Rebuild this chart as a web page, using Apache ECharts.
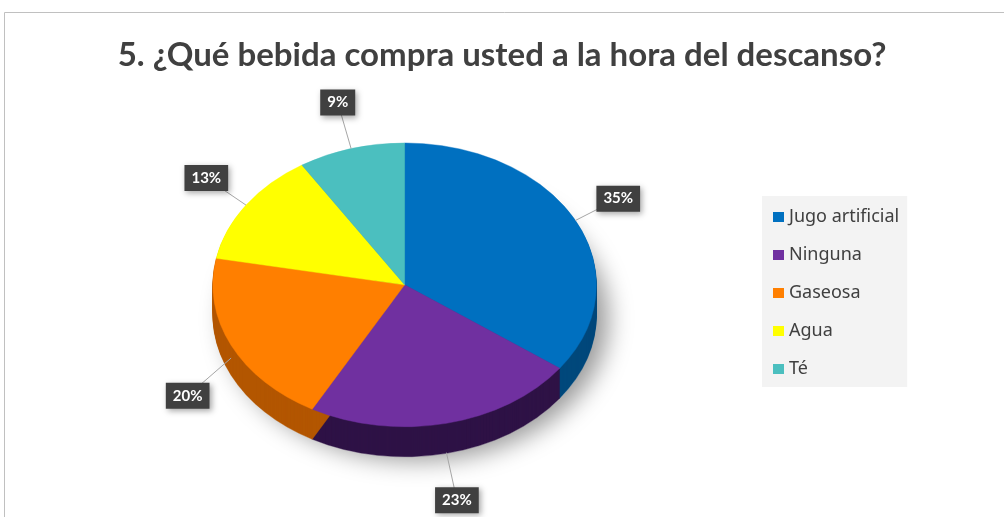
<!DOCTYPE html>
<html>
<head>
<meta charset="utf-8">
<script src="https://cdn.jsdelivr.net/npm/echarts@6/dist/echarts.min.js"></script>
<style>
  html, body { margin: 0; padding: 0; background: #fff; }
  #chart { width: 1004px; height: 517px; }
</style>
</head>
<body>
<div id="chart"></div>
<script>
// --- Data ---
const categories = ['Jugo artificial', 'Ninguna', 'Gaseosa', 'Agua', 'Té'];
const values = [35, 23, 20, 13, 9];
const topColors = ['#0070C0', '#7030A0', '#FF7F00', '#FFFF00', '#4BBFBF'];
const sideColors = ['#00487C', '#2E1246', '#B35600', '#B3B300', '#2F8585'];

const total = values.reduce((a, b) => a + b, 0);
const startFrac = values.map((v, i) => values.slice(0, i).reduce((a, b) => a + b, 0) / total);

// --- 3D-ish pie drawn as tilted sectors ---
function renderSlice(params, api) {
  const i = params.dataIndex;
  const w = api.getWidth();
  const h = api.getHeight();
  const cx = w * 0.403;
  const cy = h * 0.551;
  const rx = w * 0.191;
  const ry = rx * 0.74;
  const depth = 30;
  const sy = ry / rx;

  const v = api.value(0);
  const a0 = startFrac[i] * Math.PI * 2 - Math.PI / 2;
  const a1 = a0 + v / total * Math.PI * 2;

  const children = [];

  // soft shadow under the whole pie, drawn once
  if (i === 0) {
    children.push({
      type: 'circle',
      shape: { cx: cx, cy: cy + depth, r: rx },
      scaleY: sy, originX: cx, originY: cy + depth,
      style: { fill: '#fff', shadowBlur: 24, shadowOffsetX: 12, shadowOffsetY: 4, shadowColor: 'rgba(0,0,0,0.4)' },
      z2: 0
    });
  }

  // side wall: stacked copies
  for (let d = depth; d >= 1; d--) {
    children.push({
      type: 'sector',
      shape: { cx: cx, cy: cy + d, r: rx, startAngle: a0, endAngle: a1, clockwise: true },
      scaleY: sy, originX: cx, originY: cy + d,
      style: { fill: sideColors[i], stroke: sideColors[i], lineWidth: 0.5 },
      z2: 1
    });
  }

  // top face
  children.push({
    type: 'sector',
    shape: { cx: cx, cy: cy, r: rx, startAngle: a0, endAngle: a1, clockwise: true },
    scaleY: sy, originX: cx, originY: cy,
    style: { fill: topColors[i], stroke: topColors[i], lineWidth: 0.5 },
    z2: 2
  });

  // label with leader line
  const mid = (a0 + a1) / 2;
  const ux = Math.cos(mid);
  const uy = Math.sin(mid);
  const front = uy > 0 ? depth * uy : 0;
  const ex = cx + rx * ux;
  const ey = cy + ry * uy + front;
  const lx = cx + (rx + 48) * ux;
  const ly = cy + (ry + 48) * uy + (uy > 0 ? depth : 0);

  children.push({
    type: 'polyline',
    shape: { points: [[ex, ey], [lx, ly]] },
    style: { stroke: '#A6A6A6', lineWidth: 1, fill: null },
    z2: 3
  });
  children.push({
    type: 'text',
    x: lx, y: ly,
    style: {
      text: Math.round(v / total * 100) + '%',
      fill: '#fff',
      font: 'bold 15px Lato',
      align: 'center',
      verticalAlign: 'middle',
      backgroundColor: '#404040',
      padding: [6, 7, 5, 7],
      shadowBlur: 6,
      shadowOffsetX: 2,
      shadowOffsetY: 2,
      shadowColor: 'rgba(0,0,0,0.35)'
    },
    z2: 4
  });

  return { type: 'group', children: children };
}

const chart = echarts.init(document.getElementById('chart'), null, { renderer: 'canvas' });

chart.setOption({
  backgroundColor: '#fff',
  color: topColors,
  animation: false,
  title: {
    text: '5. ¿Qué bebida compra usted a la hora del descanso?',
    left: 'center',
    top: 34,
    textStyle: { color: '#404040', fontFamily: 'Lato', fontWeight: 'bold', fontSize: 33 }
  },
  legend: {
    orient: 'vertical',
    left: 762,
    top: 196,
    data: categories,
    icon: 'rect',
    itemWidth: 11,
    itemHeight: 10,
    itemGap: 20,
    backgroundColor: '#F3F3F3',
    padding: [12, 8, 9, 11],
    textStyle: { color: '#404040', fontFamily: 'Noto Sans', fontSize: 18, lineHeight: 18 }
  },
  graphic: [{
    type: 'rect',
    shape: { x: 4.5, y: 12.5, width: 1200, height: 700 },
    style: { fill: null, stroke: '#C0C0C0', lineWidth: 1 },
    silent: true
  }],
  series: [
    {
      // only feeds the legend
      type: 'pie',
      radius: [0, 0],
      center: [-100, -100],
      silent: true,
      label: { show: false },
      labelLine: { show: false },
      data: categories.map((c, i) => ({ name: c, value: values[i] }))
    },
    {
      type: 'custom',
      name: 'bebida',
      coordinateSystem: 'none',
      renderItem: renderSlice,
      data: categories.map((c, i) => ({ name: c, value: [values[i]] }))
    }
  ]
});

window.addEventListener('resize', () => chart.resize());
</script>
</body>
</html>
